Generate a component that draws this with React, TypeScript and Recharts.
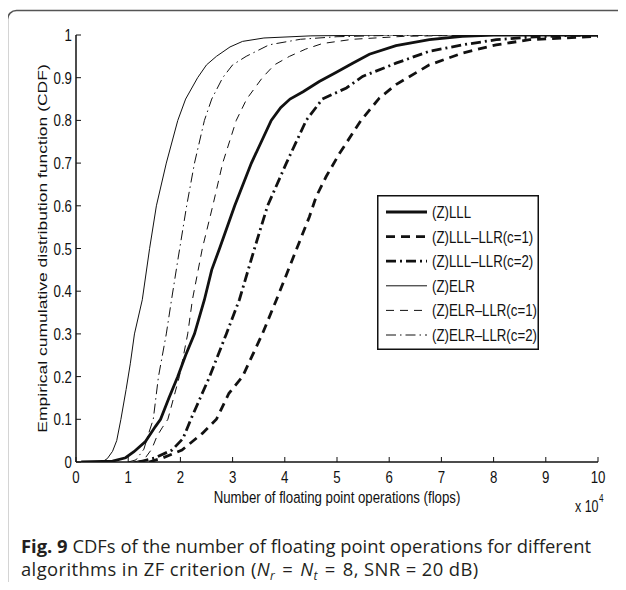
import React from 'react';
import { LineChart, Line, XAxis, YAxis } from 'recharts';

// x values in units of 10^4 flops, y = empirical CDF
const xTicks = [0, 1, 2, 3, 4, 5, 6, 7, 8, 9, 10];
const yTicks = [0, 0.1, 0.2, 0.3, 0.4, 0.5, 0.6, 0.7, 0.8, 0.9, 1];

const lll = [[0.1,0],[0.7,0.002],[0.95,0.01],[1.11,0.024],[1.33,0.048],[1.52,0.083],[1.62,0.1],[1.78,0.15],[1.95,0.2],[2.1,0.25],[2.27,0.3],[2.46,0.38],[2.6,0.45],[2.75,0.5],[3.04,0.6],[3.36,0.7],[3.74,0.8],[3.92,0.83],[4.1,0.85],[4.35,0.867],[4.66,0.891],[4.98,0.912],[5.3,0.934],[5.62,0.955],[6.13,0.975],[6.77,0.989],[7.4,0.997],[8,1],[10,1]];
const lllLlr1 = [[1.4,0],[1.65,0.009],[2.03,0.028],[2.42,0.067],[2.69,0.1],[2.93,0.161],[3.19,0.2],[3.57,0.3],[3.84,0.38],[4.23,0.5],[4.47,0.574],[4.6,0.621],[4.79,0.668],[5.05,0.723],[5.46,0.8],[5.81,0.852],[6.13,0.884],[6.77,0.93],[7.41,0.958],[8.05,0.977],[8.69,0.989],[9.33,0.993],[10,0.997]];
const lllLlr2 = [[1.2,0],[1.52,0.01],[1.84,0.028],[2.05,0.055],[2.2,0.1],[2.38,0.15],[2.56,0.2],[2.88,0.3],[3.13,0.38],[3.42,0.5],[3.67,0.6],[4.03,0.7],[4.41,0.8],[4.72,0.85],[5.18,0.876],[5.49,0.903],[6.13,0.934],[6.77,0.962],[7.41,0.977],[8.05,0.989],[8.69,0.995],[9.5,0.999],[10,1]];
const elr = [[0.1,0],[0.5,0],[0.6,0.008],[0.7,0.025],[0.78,0.05],[0.86,0.1],[0.96,0.17],[1.04,0.23],[1.12,0.3],[1.27,0.38],[1.41,0.5],[1.54,0.6],[1.73,0.7],[1.95,0.8],[2.1,0.85],[2.33,0.9],[2.5,0.93],[2.69,0.95],[2.95,0.972],[3.19,0.985],[3.6,0.993],[4.5,0.998],[6,1],[10,1]];
const elrLlr1 = [[1.1,0],[1.3,0.005],[1.45,0.03],[1.55,0.06],[1.65,0.08],[1.76,0.1],[1.87,0.15],[1.98,0.2],[2.14,0.3],[2.23,0.38],[2.42,0.5],[2.62,0.6],[2.81,0.7],[3.07,0.8],[3.27,0.85],[3.57,0.9],[3.8,0.93],[4.09,0.95],[4.4,0.967],[4.72,0.98],[5.3,0.99],[6.3,0.997],[8,1],[10,1]];
const elrLlr2 = [[1.0,0],[1.15,0.005],[1.3,0.03],[1.4,0.07],[1.48,0.1],[1.58,0.2],[1.73,0.3],[1.83,0.38],[1.96,0.48],[2.12,0.6],[2.27,0.7],[2.46,0.8],[2.6,0.85],[2.81,0.9],[3.0,0.93],[3.26,0.95],[3.7,0.977],[4.3,0.99],[5,0.996],[6,0.999],[10,1]];

const seriesNames = ['(Z)LLL', '(Z)LLL–LLR(c=1)', '(Z)LLL–LLR(c=2)', '(Z)ELR', '(Z)ELR–LLR(c=1)', '(Z)ELR–LLR(c=2)'];
const seriesData = [lll, lllLlr1, lllLlr2, elr, elrLlr1, elrLlr2];

const styles = [
  { w: 2.8, dash: undefined },
  { w: 2.8, dash: '9 6' },
  { w: 2.8, dash: '10 4 2 4' },
  { w: 1, dash: undefined },
  { w: 1, dash: '8 6' },
  { w: 1, dash: '10 4 1.5 4' },
];

const INK = '#111';
const FONT = '"Liberation Sans", Arial, Helvetica, sans-serif';
const SQ = 0.78;

const XTick = (props: any) => {
  const { x, y, payload } = props;
  return (
    <text transform={`translate(${x},${y}) scale(${SQ},1)`} textAnchor="middle" fontSize={17} fontFamily={FONT} fill={INK}>
      {String(payload.value)}
    </text>
  );
};

const YTick = (props: any) => {
  const { x, y, payload } = props;
  return (
    <text transform={`translate(${x},${y + 6}) scale(${SQ},1)`} textAnchor="end" fontSize={17} fontFamily={FONT} fill={INK}>
      {String(payload.value)}
    </text>
  );
};

const XLabel = (props: any) => {
  const vb = props.viewBox || { x: 76, y: 462, width: 522 };
  const cx = vb.x + vb.width / 2;
  const by = vb.y + 41;
  return (
    <g>
      <text transform={`translate(${cx},${by}) scale(${SQ},1)`} textAnchor="middle" fontSize={17} fontFamily={FONT} fill={INK}>
        Number of floating point operations (flops)
      </text>
      <text transform={`translate(${vb.x + vb.width - 23},${by + 9}) scale(${SQ},1)`} textAnchor="start" fontSize={16} fontFamily={FONT} fill={INK}>
        x 10
      </text>
      <text transform={`translate(${vb.x + vb.width + 1},${by - 1}) scale(${SQ},1)`} textAnchor="start" fontSize={10.5} fontFamily={FONT} fill={INK}>
        4
      </text>
    </g>
  );
};

const YLabel = (props: any) => {
  const vb = props.viewBox || { x: 36, y: 35, width: 40, height: 427 };
  const cy = vb.y + vb.height / 2;
  return (
    <text transform={`translate(47,${cy}) scale(${SQ},1) rotate(-90)`} textAnchor="middle" fontSize={17.5} fontFamily={FONT} fill={INK}>
      Empirical cumulative distribution function (CDF)
    </text>
  );
};

const LegendBox = () => {
  const rowY = (i: number) => 17 + i * 24.6;
  return (
    <svg width={164} height={157} style={{ position: 'absolute', left: 376, top: 194 }}>
      <rect x={1.75} y={1.75} width={160.5} height={153.5} fill="#fff" stroke={INK} strokeWidth={1.5} />
      {seriesNames.map((n, i) => (
        <g key={n}>
          <line x1={10} x2={51} y1={rowY(i) + 1} y2={rowY(i) + 1} stroke={INK} strokeWidth={styles[i].w} strokeDasharray={styles[i].dash} />
          <text transform={`translate(56,${rowY(i) + 7}) scale(${SQ},1)`} fontSize={17} fontFamily={FONT} fill={INK}>
            {n}
          </text>
        </g>
      ))}
    </svg>
  );
};

const mathEq = { margin: '0 7px' };
const subStyle = { fontSize: 12, verticalAlign: -4, lineHeight: 0 };

export default function App() {
  return (
    <div style={{ position: 'relative', width: 626, height: 590, margin: -8, overflow: 'hidden', background: '#fff' }}>
      <div style={{ position: 'absolute', left: 0, top: 0 }}>
        <LineChart width={626} height={590} margin={{ top: 35, right: 28, bottom: 98, left: 36 }}>
          <XAxis xAxisId="b" dataKey="x" type="number" domain={[0, 10]} ticks={xTicks} allowDataOverflow
            orientation="bottom" height={30} interval={0} tickSize={-5} tickMargin={26}
            axisLine={{ stroke: INK, strokeWidth: 1.5 }} tickLine={{ stroke: INK, strokeWidth: 1 }}
            tick={<XTick />} label={<XLabel />} />
          <XAxis xAxisId="t" dataKey="x" type="number" domain={[0, 10]} ticks={xTicks} allowDataOverflow
            orientation="top" height={0} interval={0} tickSize={-5} tickMargin={0} tickFormatter={() => ''}
            axisLine={{ stroke: INK, strokeWidth: 1.5 }} tickLine={{ stroke: INK, strokeWidth: 1 }} />
          <YAxis yAxisId="l" type="number" domain={[0, 1]} ticks={yTicks} allowDataOverflow
            orientation="left" width={40} interval={0} tickSize={-5} tickMargin={9}
            axisLine={{ stroke: INK, strokeWidth: 1.5 }} tickLine={{ stroke: INK, strokeWidth: 1 }}
            tick={<YTick />} label={<YLabel />} />
          <YAxis yAxisId="r" type="number" domain={[0, 1]} ticks={yTicks} allowDataOverflow
            orientation="right" width={0} interval={0} tickSize={-5} tickMargin={0} tickFormatter={() => ''}
            axisLine={{ stroke: INK, strokeWidth: 1.5 }} tickLine={{ stroke: INK, strokeWidth: 1 }} />
          {seriesData.map((d, i) => (
            <Line key={seriesNames[i]} name={seriesNames[i]} xAxisId="b" yAxisId="l"
              data={d.map(([x, y]) => ({ x, y }))} dataKey="y" type="linear" dot={false} activeDot={false}
              stroke={INK} strokeWidth={styles[i].w} strokeDasharray={styles[i].dash}
              isAnimationActive={false} />
          ))}
        </LineChart>
      </div>
      <LegendBox />
      <div style={{ position: 'absolute', left: 21, top: 534, fontFamily: '"Open Sans", "Noto Sans", sans-serif', fontSize: 18.4, lineHeight: '23px', color: '#231f20', whiteSpace: 'nowrap' }}>
        <div><b>Fig. 9</b> CDFs of the number of floating point operations for different</div>
        <div style={{ letterSpacing: 0.4 }}>algorithms in ZF criterion (<i>N</i><span style={subStyle}><i>r</i></span><span style={mathEq}>=</span><i>N</i><span style={subStyle}><i>t</i></span><span style={mathEq}>=</span>8, SNR = 20 dB)</div>
      </div>
      <svg width={626} height={590} style={{ position: 'absolute', left: 0, top: 0, pointerEvents: 'none' }}>
        <rect x={7.5} y={10.5} width={700} height={700} rx={9} ry={9} fill="none" stroke="#555" strokeWidth={1.5} />
      </svg>
    </div>
  );
}
